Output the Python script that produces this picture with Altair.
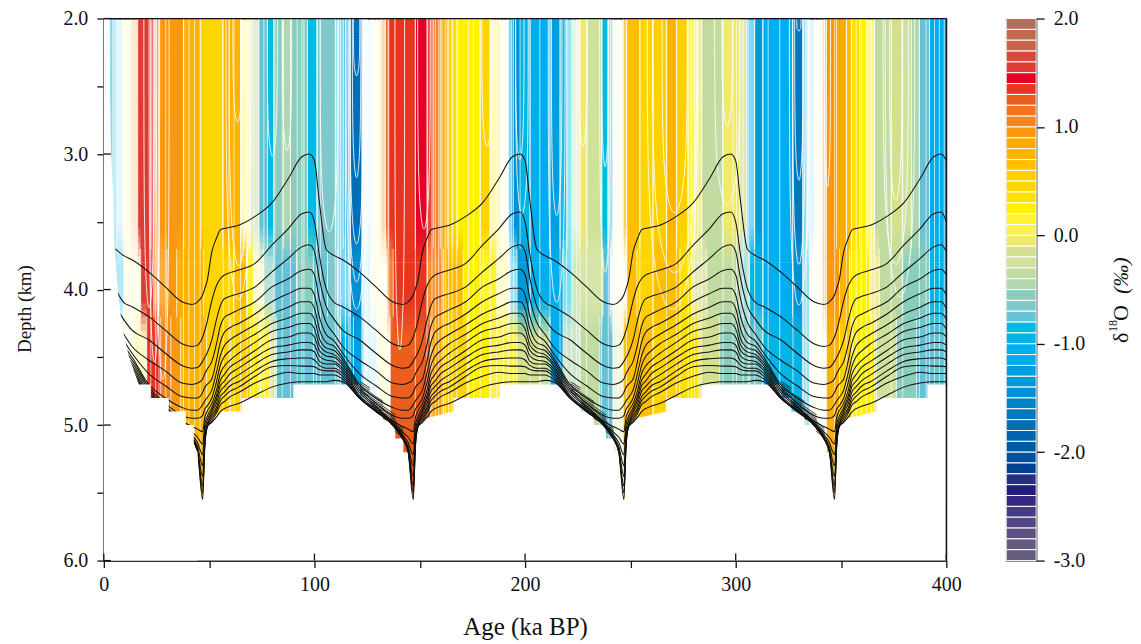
import altair as alt
import pandas as pd

FONT = "Liberation Serif"

BAR_COLORS = ["#B0705A", "#C0694F", "#CC6349", "#D8483A", "#DE3C33", "#E60026", "#E73520", "#EC5E1E", "#F27420", "#F5851A",
              "#FA9811", "#FCA904", "#FFB200", "#FFBE00", "#FFD000", "#FFD500", "#FFE100", "#FFF100", "#FFF42F", "#FBF055",
              "#EFE96C", "#D5E08F", "#CFE29B", "#C1DBA0", "#B0D7AE", "#8BCDBC", "#7FC9CA", "#65C2D4", "#00BCE2", "#00B5E5",
              "#00AEEF", "#00AAEE", "#009FDF", "#0099D8", "#0091D5", "#0082C8", "#0078C0", "#006FB8", "#0065AE", "#005AA0",
              "#0050A0", "#004090", "#262D85", "#231C7E", "#35277F", "#453A85", "#544784", "#5D5085", "#645A82", "#645E7C"]
BAR_TOPS = [2.0, 1.9, 1.8, 1.7, 1.6, 1.5, 1.4, 1.3, 1.2, 1.1, 1.0, 0.9, 0.8, 0.7, 0.6, 0.5, 0.4, 0.3, 0.2, 0.1,
            0.0, -0.1, -0.2, -0.3, -0.4, -0.5, -0.6, -0.7, -0.8, -0.9, -1.0, -1.1, -1.2, -1.3, -1.4, -1.5, -1.6, -1.7, -1.8, -1.9,
            -2.0, -2.1, -2.2, -2.3, -2.4, -2.5, -2.6, -2.7, -2.8, -2.9]

TOP_EDGES = [2.8, 4.3, 6.2, 9, 12.8, 16.1, 22.3, 23.7, 26.1, 37.9, 46, 56.4, 64.9, 69.7, 73.5, 77.7, 80.6, 85.3, 88.6, 96.7,
             101.4, 110, 113.7, 117, 122.7, 127.5, 131.3, 133.6, 135, 147.9, 153.6, 156.4, 159.7, 163, 165.4, 167.8, 178.7, 183.4, 188.2, 191.9,
             193.8, 197.6, 202.4, 211.8, 216.6, 219.9, 222.7, 226, 229.4, 236.5, 239.3, 241.7, 246.4, 248.3, 254.5, 260.7, 267.3, 272, 277.3, 280.6,
             283.9, 293.8, 301.9, 305.2, 309, 312.8, 327, 331.8, 334, 337.4, 341.2, 343.1, 347.9, 352.6, 355, 358.8, 362.6, 365.9, 373.9, 379.1,
             383.4, 387.2, 392, 400]
TOP_LEVELS = [-.95, -.95, -.95, .25, .95, 1.55, 1.45, 1.05, .95, .75, .45, .75, .15, -.35, -.75, -.85, -.55, -.45, -.55, -.85,
              -.65, -.85, -1.25, -1.75, -.95, .25, .95, 1.25, 1.35, 1.45, 1.35, 1.15, .85, .55, .35, .25, .45, .15, .05, -.95,
              -1.45, -.95, -1.05, -1.25, -.95, -.85, -.25, -.05, -.25, -.85, -.85, .15, .65, .65, .45, .55, .75, .55, .15, -.05,
              -.35, -.05, -.15, -.95, -1.35, -1.05, -1.65, -.95, -.95, .15, .95, .95, .85, .65, .35, .25, .15, -.35, -.15, -.25,
              -.45, -.75, -1.05]
TOP_ALPHA = [.5, .25, .1, .08, .2, 1, .55, .75, 1, 1, 1, 1, .3, .5, 1, 1, 1, 1, 1, 1,
             1, .5, .7, 1, .06, .07, .4, .9, 1, 1, .9, .9, .9, 1, 1, 1, 1, .35, .05, .5,
             1, 1, 1, 1, .9, .4, .4, 1, 1, 1, .4, .05, .7, 1, 1, 1, 1, 1, .9, .8,
             1, 1, .7, .5, 1, 1, 1, .5, .1, .05, .4, 1, 1, 1, 1, 1, .6, 1, 1, 1,
             1, 1, 1]

MID_EDGES = [4.7, 9.5, 17.5, 23.7, 26, 30, 34.6, 47.4, 61.6, 67.8, 71, 75.8, 80.6, 91.5, 99.5, 106.2, 110.9, 117, 122.7, 126.5,
             134.6, 137.4, 153.6, 161.1, 170.6, 180.1, 186.7, 192.9, 196.2, 202.4, 218, 222.7, 237, 240.3, 248.3, 253.1, 260.7, 273.5, 279.6, 286.3,
             301.9, 306.6, 312.8, 327, 331.8, 335, 341.2, 343.1, 349.3, 354, 363.5, 368.2, 379.1, 392, 400]
MID_LEVELS = [-.95, .25, 1.55, 1.15, .95, .95, .75, .45, .65, .25, .05, -.55, -.75, -.55, -.75, -.65, -.95, -1.45, -.95,
              .25, 1.15, 1.35, 1.05, .65, .25, .15, .15, -.95, -1.35, -1.05, -.85, -.25, -.75, .15, .65, .45, .65, .35, -.15,
              -.35, -.65, -.95, -1.05, -1.45, -.95, .15, .95, .95, .75, .25, -.05, -.35, -.55, -.95]
MID_ALPHA = [.3, .08, 1, .6, .8, 1, 1, 1, 1, .8, .25, .6, 1, 1, 1, 1, .5, 1, .12,
             .08, .9, 1, .9, 1, 1, 1, .25, .4, 1, 1, .5, .85, 1, .05, 1, 1, 1, 1, .7,
             1, .6, 1, 1, 1, .4, .05, .4, 1, 1, 1, .7, 1, 1, 1]

LOW_EDGES = [8, 14.2, 20.4, 27, 31.8, 36.5, 48.8, 60.2, 69.7, 74.4, 79.1, 82, 99.5, 112.3, 118.5, 123.2, 129.9, 136, 155, 161.1,
             172.5, 183.4, 196.2, 207.1, 211.8, 218, 226, 235.5, 241.7, 246.4, 260.7, 273.5, 283, 292.4, 306.6, 312.8, 331.8, 335, 343.1, 349.3,
             355.5, 366.8, 376.3, 385.8, 400]
LOW_LEVELS = [.15, .25, 1.35, 1.05, .95, .75, .55, .45, .25, .15, -.15, -.75, -.75, -.95, -1.25, -.95, .25, 1.25, .85,
              .45, .25, .05, -.15, -.25, -1.05, -.45, -.35, -.75, -.25, .65, .45, .35, -.15, -.55, -.65, -.95, -.85, .15, .75,
              .55, .25, -.25, -.55, -.75]
LOW_ALPHA = [.07, .2, 1, 1, 1, 1, 1, 1, 1, .9, .7, 1, 1, 1, 1, .1, .12, 1, 1,
             1, 1, 1, 1, 1, 1, .6, 1, 1, .3, 1, 1, 1, 1, 1, 1, 1, .4, .07, 1,
             1, 1, 1, 1, 1]

EXTRA_RULES = [22.3, 24.6, 26.2, 29.4, 37.8, 40.4, 43.1, 45.7, 56.7, 59.4, 61.8, 64.9, 68, 71.2, 73.6, 76, 81.2, 84.7, 88.6, 91.8, 95,
               102.8, 109.9, 111.5, 114.7, 116.3, 122.6, 124.2, 129.7, 133.7,
               94, 101, 110.8, 112.4, 114.7, 117, 122.6, 125, 127.4, 132.1, 135.3, 147.9, 153.4, 155.8, 157.4, 159, 160.5, 162.1, 163.7, 165.3,
               167.6, 173.2, 175.5, 178.7, 183.4, 186.6, 189.8, 192.1, 194.5,
               202.3, 207, 211.8, 216.6, 219.7, 222.1, 224.5, 226, 229.2, 236.3, 239.5, 241.8, 244.2, 246.6, 248.2, 254.5, 260.8, 267.1, 271.8,
               277.4, 279, 280.5, 282.1, 283.7, 294, 298.7,
               300.4, 303.5, 305.9, 309, 313, 315.4, 320.9, 327.2, 332, 333.5, 335.1, 337.5, 339.9, 342.2, 347, 352.5, 354.9, 357.2, 359.6, 362,
               364.3, 365.9, 373.8, 379.3, 387.2, 390.4, 392, 394.4, 396.7, 399]

FLOOR_AGE = [0, 2.4, 2.8, 3.2, 4.5, 5, 7, 9, 12, 14.2, 16.6, 22.3, 22.3, 30.8, 30.8, 38.9, 38.9, 42.7, 42.7, 44.5, 46.9, 47.2, 48.3, 50, 53, 56, 65.4, 65.4, 90, 90,
             121.8, 121.8, 126.5, 126.5, 132.7, 132.7, 138.4, 138.4, 142.2, 142.2, 144.5, 146.9, 147.2, 148.3, 150, 153, 166, 166, 188, 188,
             221.8, 221.8, 226.5, 226.5, 232.7, 232.7, 238.4, 238.4, 242.2, 242.2, 244.5, 246.9, 247.2, 248.3, 250, 253, 267, 267, 284, 284,
             321.8, 321.8, 326.5, 326.5, 332.7, 332.7, 338.4, 338.4, 342.2, 342.2, 344.5, 346.9, 347.2, 348.3, 350, 353, 367, 367, 391, 391, 400]
FLOOR_DEPTH = [2, 2, 2.4, 2.9, 3.4, 3.7, 4.07, 4.3, 4.5, 4.6, 4.7, 4.7, 4.8, 4.8, 4.9, 4.9, 5.0, 5.0, 5.15, 5.2, 5.55, 5.55, 5.05, 4.98, 4.93, 4.9, 4.9, 4.8, 4.8, 4.7,
               4.7, 4.8, 4.8, 4.9, 4.9, 5.0, 5.0, 5.1, 5.1, 5.2, 5.2, 5.55, 5.55, 5.05, 4.98, 4.95, 4.9, 4.8, 4.8, 4.7,
               4.7, 4.8, 4.8, 4.9, 4.9, 5.0, 5.0, 5.1, 5.1, 5.2, 5.2, 5.55, 5.55, 5.05, 4.98, 4.95, 4.9, 4.8, 4.8, 4.7,
               4.7, 4.8, 4.8, 4.9, 4.9, 5.0, 5.0, 5.1, 5.1, 5.2, 5.2, 5.55, 5.55, 5.05, 4.98, 4.95, 4.9, 4.8, 4.8, 4.7, 4.7]

PHASES = [0, 2.3, 5.5, 9.4, 13.4, 21.3, 29.2, 37.1, 41.8, 44.5, 46.9, 48, 49, 51.3, 53.5, 55.3, 57, 60, 64, 71.8, 79.8, 87.6, 94, 97.6]
CYCLES = [0, 100, 200, 300]
L01 = [3.05, 3.35, 3.70, 3.75, 3.78, 3.87, 3.98, 4.09, 4.11, 4.09, 4.04, 3.99, 3.94, 3.72, 3.62, 3.56, 3.55, 3.54, 3.525, 3.46, 3.36, 3.18, 3.02, 3.0]
L02 = [3.50, 3.746, 3.99, 4.095, 4.127, 4.20, 4.30, 4.40, 4.42, 4.41, 4.35, 4.30, 4.24, 4.08, 3.97, 3.92, 3.895, 3.875, 3.856, 3.807, 3.672, 3.55, 3.44, 3.427]
L03 = [3.72, 3.92, 4.12, 4.22, 4.30, 4.37, 4.47, 4.56, 4.58, 4.575, 4.53, 4.50, 4.47, 4.37, 4.22, 4.12, 4.07, 4.05, 4.03, 3.98, 3.87, 3.77, 3.685, 3.67]
L04 = [3.89, 4.07, 4.24, 4.33, 4.42, 4.52, 4.60, 4.69, 4.70, 4.69, 4.66, 4.62, 4.59, 4.53, 4.40, 4.27, 4.21, 4.18, 4.15, 4.09, 3.98, 3.92, 3.86, 3.85]
L05 = [4.04, 4.20, 4.33, 4.38, 4.47, 4.62, 4.71, 4.79, 4.80, 4.80, 4.76, 4.72, 4.70, 4.66, 4.52, 4.39, 4.32, 4.28, 4.25, 4.18, 4.09, 4.03, 3.99, 3.99]
L06 = [4.14, 4.29, 4.39, 4.42, 4.50, 4.70, 4.80, 4.87, 4.89, 4.89, 4.85, 4.82, 4.80, 4.74, 4.61, 4.49, 4.42, 4.37, 4.33, 4.26, 4.18, 4.13, 4.09, 4.09]
L07 = [4.22, 4.36, 4.43, 4.45, 4.52, 4.72, 4.84, 4.93, 4.95, 4.95, 4.93, 4.88, 4.86, 4.80, 4.68, 4.56, 4.50, 4.45, 4.40, 4.33, 4.25, 4.21, 4.175, 4.175]
L08 = [4.29, 4.41, 4.46, 4.48, 4.54, 4.74, 4.86, 4.97, 5.01, 5.03, 5.05, 4.94, 4.90, 4.84, 4.74, 4.62, 4.57, 4.52, 4.47, 4.39, 4.31, 4.28, 4.25, 4.25]
L09 = [4.35, 4.45, 4.49, 4.50, 4.56, 4.76, 4.87, 4.98, 5.05, 5.09, 5.14, 4.99, 4.94, 4.87, 4.78, 4.67, 4.63, 4.57, 4.53, 4.45, 4.37, 4.35, 4.32, 4.32]
L10 = [4.41, 4.49, 4.52, 4.53, 4.58, 4.78, 4.88, 4.985, 5.07, 5.13, 5.22, 5.03, 4.97, 4.89, 4.81, 4.71, 4.68, 4.62, 4.58, 4.50, 4.43, 4.41, 4.39, 4.39]
L11 = [4.46, 4.53, 4.55, 4.55, 4.60, 4.79, 4.89, 4.99, 5.08, 5.16, 5.30, 5.07, 5.0, 4.91, 4.84, 4.75, 4.72, 4.67, 4.63, 4.55, 4.48, 4.46, 4.445, 4.445]
L12 = [4.52, 4.56, 4.58, 4.58, 4.62, 4.80, 4.89, 4.99, 5.09, 5.18, 5.38, 5.1, 5.01, 4.93, 4.87, 4.79, 4.76, 4.71, 4.68, 4.60, 4.53, 4.51, 4.505, 4.505]
L13 = [4.57, 4.59, 4.60, 4.60, 4.64, 4.80, 4.90, 5.0, 5.095, 5.19, 5.45, 5.13, 5.02, 4.95, 4.89, 4.82, 4.79, 4.75, 4.72, 4.64, 4.57, 4.56, 4.565, 4.565]
L14 = [4.62, 4.63, 4.63, 4.63, 4.66, 4.80, 4.90, 5.0, 5.10, 5.2, 5.50, 5.15, 5.02, 4.97, 4.91, 4.85, 4.83, 4.79, 4.76, 4.69, 4.64, 4.61, 4.62, 4.62]
L15 = [4.68, 4.68, 4.68, 4.67, 4.68, 4.80, 4.90, 5.0, 5.10, 5.2, 5.55, 5.12, 5.01, 4.98, 4.94, 4.90, 4.88, 4.86, 4.84, 4.78, 4.72, 4.69, 4.68, 4.68]
LINES = [L01, L02, L03, L04, L05, L06, L07, L08, L09, L10, L11, L12, L13, L14, L15]

U_CENTER = [63.5, 80, 87, 120, 120, 120, 120, 120, 107, 152, 182, 197.5, 198.5, 227.5, 238, 238, 215, 215, 271, 271, 270, 296, 296,
            330, 330, 330, 330, 343.5, 376, 376, 378, 21.5, 24, 28, 64, 64, 140.5]
U_WIDTH = [2.2, 2.4, 2.2, 1.5, 2, 3.2, 4, 5, 4.3, 3, 2.5, 2, 3, 2, 1.6, 2.6, 2.5, 4, 6, 10.5, 12, 2.5, 6,
           1, 2, 3, 4.5, 1.5, 3, 6, 7, 2.5, 2.5, 3, 4.5, 6, 2.3]
U_TIP = [2.77, 3.02, 2.98, 2.43, 3.18, 3.67, 3.95, 4.15, 3.58, 3.56, 2.95, 3.05, 3.45, 2.95, 3.1, 3.88, 3.46, 4.1, 3.44, 3.88, 4.15, 2.8, 3.38,
         2.1, 3.2, 3.82, 4.12, 3.25, 3.35, 3.82, 4.06, 4.14, 4.54, 4.67, 3.83, 4.08, 4.45]

# Hatched blocks along the stepped sea floor, one cycle's worth.
STACK_AGE0 = [121.6, 121.6, 121.6, 121.6, 121.6, 121.6, 126.3, 126.3, 126.3, 126.3, 126.3, 126.3, 126.3,
              132.5, 132.5, 132.5, 132.5, 132.5, 132.5, 132.5, 138.2, 138.2, 138.2, 138.2, 138.2, 138.2]
STACK_AGE1 = [126.3, 126.3, 126.3, 126.3, 126.3, 126.3, 132.6, 132.6, 132.6, 132.6, 132.6, 132.6, 132.6,
              138.4, 138.4, 138.4, 138.4, 138.4, 138.4, 138.4, 142.2, 142.2, 142.2, 142.2, 142.2, 142.2]
STACK_DEPTH0 = [4.68, 4.695, 4.71, 4.725, 4.74, 4.755, 4.76, 4.775, 4.79, 4.805, 4.82, 4.835, 4.85,
                4.86, 4.875, 4.89, 4.905, 4.92, 4.935, 4.95, 4.97, 4.985, 5.0, 5.015, 5.03, 5.045]
STACK_DEPTH1 = [4.725, 4.74, 4.755, 4.77, 4.785, 4.795, 4.825, 4.84, 4.855, 4.865, 4.875, 4.885, 4.895,
                4.925, 4.94, 4.955, 4.965, 4.975, 4.985, 4.995, 5.03, 5.045, 5.06, 5.07, 5.08, 5.095]

ZONE1_STEPS = [3.55, 3.6, 3.65, 3.7, 3.75, 3.8]
ZONE2_STEPS = [4.1, 4.15, 4.2, 4.25, 4.3, 4.35]
STEP_SHARE = [.18, .36, .54, .72, .88]


def bands(edges, levels, alpha, d0, d1):
    return pd.DataFrame({"a0": edges[:-1], "a1": edges[1:], "level": levels, "alpha": alpha, "d0": d0, "d1": d1})


band_df = pd.concat([
    bands(TOP_EDGES, TOP_LEVELS, TOP_ALPHA, 2.0, 3.8),
    bands(MID_EDGES, MID_LEVELS, MID_ALPHA, 3.8, 4.35),
    bands(LOW_EDGES, LOW_LEVELS, LOW_ALPHA, 4.35, 5.6),
])
wash_rows, blend_rows = [], []
for steps, src in ((ZONE1_STEPS, bands(MID_EDGES, MID_LEVELS, MID_ALPHA, 0, 0)), (ZONE2_STEPS, bands(LOW_EDGES, LOW_LEVELS, LOW_ALPHA, 0, 0))):
    for i, s in enumerate(STEP_SHARE):
        part = src.copy()
        part["d0"], part["d1"] = steps[i], steps[i + 1]
        wash = part.copy()
        # White first, then the colour, so that the lower band replaces the upper by the share s.
        wash["alpha"] = 1 - (1 - s) / (1 - s * part["alpha"])
        part["alpha"] = part["alpha"] * s
        wash_rows.append(wash)
        blend_rows.append(part)
wash_df = pd.concat(wash_rows)
blend_df = pd.concat(blend_rows)

edge_df = pd.concat([
    pd.DataFrame({"a": TOP_EDGES, "d0": 2.0, "d1": 3.7}),
    pd.DataFrame({"a": MID_EDGES, "d0": 3.7, "d1": 4.2}),
    pd.DataFrame({"a": LOW_EDGES, "d0": 4.2, "d1": 5.6}),
    pd.DataFrame({"a": EXTRA_RULES, "d0": 2.0, "d1": 5.6}),
])

rows = []
for k, line in enumerate(LINES):
    for c in CYCLES:
        for p, d in zip(PHASES, line):
            if c == 0 and p < 5:
                continue
            rows.append({"line": k, "age": c + p, "depth": d})
    rows.append({"line": k, "age": 400, "depth": line[0]})
line_df = pd.DataFrame(rows)

u_rows = []
for i, (c, w, t) in enumerate(zip(U_CENTER, U_WIDTH, U_TIP)):
    path = [(c - w, 2.0), (c - w, 2.0 + (t - 2.0) * .5), (c - w * .8, t - .45 * (t - 2.0) * .35), (c - w * .3, t - .02), (c, t),
            (c + w * .3, t - .02), (c + w * .8, t - .45 * (t - 2.0) * .35), (c + w, 2.0 + (t - 2.0) * .5), (c + w, 2.0)]
    for j, (a, d) in enumerate(path):
        u_rows.append({"u": i, "j": j, "age": a, "depth": d})
u_df = pd.DataFrame(u_rows)

floor_df = pd.DataFrame({"age": FLOOR_AGE, "depth": FLOOR_DEPTH, "base": 6.0})
stack_rows = []
for c in CYCLES[:3]:
    for a0, a1, d0, d1 in zip(STACK_AGE0, STACK_AGE1, STACK_DEPTH0, STACK_DEPTH1):
        stack_rows.append({"a0": a0 + c, "a1": a1 + c, "d0": d0, "d1": d1})
stack_df = pd.DataFrame(stack_rows)

x_scale = alt.Scale(domain=[0, 400], nice=False, zero=False)
y_scale = alt.Scale(domain=[2, 6], reverse=True, nice=False, zero=False)
thresholds = sorted(BAR_TOPS)[:-1]
color_scale = alt.Scale(type="threshold", domain=thresholds, range=BAR_COLORS[::-1])

x_axis = alt.Axis(values=[0, 50, 100, 150, 200, 250, 300, 350, 400], labelExpr="datum.value % 100 === 0 ? datum.value : ''",
                  title="Age (ka BP)", tickSize=7, tickWidth=1.3, tickColor="#111", domainColor="#111", domainWidth=1.4,
                  labelFont=FONT, labelFontSize=20, labelColor="#111", labelPadding=7, labelAngle=0, labelOverlap=False, labelFlush=False,
                  titleFont=FONT, titleFontSize=25, titleFontWeight="normal", titleColor="#111", titlePadding=20, grid=False)
y_axis = alt.Axis(values=[2, 2.5, 3, 3.5, 4, 4.5, 5, 5.5, 6], labelExpr="datum.value % 1 === 0 ? format(datum.value, '.1f') : ''",
                  title=None, tickSize=7, tickWidth=1.3, tickColor="#111", domainColor="#111", domainWidth=2,
                  labelFont=FONT, labelFontSize=20, labelColor="#111", labelPadding=9, labelOverlap=False, labelFlush=False, grid=False)

rect = alt.Chart(band_df).mark_rect().encode(
    x=alt.X("a0:Q", scale=x_scale, axis=x_axis), x2="a1:Q",
    y=alt.Y("d0:Q", scale=y_scale, axis=y_axis), y2="d1:Q",
    color=alt.Color("level:Q", scale=color_scale, legend=None),
    opacity=alt.Opacity("alpha:Q", scale=None),
)
wash = alt.Chart(wash_df).mark_rect(color="white").encode(
    x=alt.X("a0:Q", scale=x_scale), x2="a1:Q", y=alt.Y("d0:Q", scale=y_scale), y2="d1:Q",
    opacity=alt.Opacity("alpha:Q", scale=None))
blend = alt.Chart(blend_df).mark_rect().encode(
    x=alt.X("a0:Q", scale=x_scale), x2="a1:Q", y=alt.Y("d0:Q", scale=y_scale), y2="d1:Q",
    color=alt.Color("level:Q", scale=color_scale, legend=None),
    opacity=alt.Opacity("alpha:Q", scale=None),
)
edges = alt.Chart(edge_df).mark_rule(color="white", strokeWidth=0.8, opacity=.85).encode(
    x=alt.X("a:Q", scale=x_scale), y=alt.Y("d0:Q", scale=y_scale), y2="d1:Q")
contours = alt.Chart(u_df).mark_line(color="white", strokeWidth=1, interpolate="basis", opacity=.85).encode(
    x=alt.X("age:Q", scale=x_scale), y=alt.Y("depth:Q", scale=y_scale), detail="u:N", order="j:Q")
mask = alt.Chart(floor_df).mark_area(color="white", opacity=1).encode(
    x=alt.X("age:Q", scale=x_scale), y=alt.Y("depth:Q", scale=y_scale), y2="base:Q")
stack = alt.Chart(stack_df).mark_rule(color="#111", strokeWidth=0.8).encode(
    x=alt.X("a0:Q", scale=x_scale), x2="a1:Q", y=alt.Y("d0:Q", scale=y_scale), y2="d1:Q")
lines = alt.Chart(line_df).mark_line(color="#111", strokeWidth=1.05, interpolate="monotone", clip=True).encode(
    x=alt.X("age:Q", scale=x_scale), y=alt.Y("depth:Q", scale=y_scale), detail="line:N")
mask_left = alt.Chart(floor_df[floor_df.age <= 44.5]).mark_area(color="white", opacity=1).encode(
    x=alt.X("age:Q", scale=x_scale), y=alt.Y("depth:Q", scale=y_scale), y2="base:Q")

inner_y = alt.Chart(pd.DataFrame({"d": [2, 3, 4, 5, 6]})).mark_rule(color="#111", strokeWidth=1.3).encode(
    y=alt.Y("d:Q", scale=y_scale), x=alt.value(0), x2=alt.value(7))
inner_x = alt.Chart(pd.DataFrame({"a": [0, 100, 200, 300, 400]})).mark_rule(color="#111", strokeWidth=1.3).encode(
    x=alt.X("a:Q", scale=x_scale), y=alt.value(536), y2=alt.value(543))
frame_top = alt.Chart(pd.DataFrame({"d": [2]})).mark_rule(color="#111", strokeWidth=1.3).encode(
    y=alt.Y("d:Q", scale=y_scale), x=alt.value(0), x2=alt.value(844))
frame_right = alt.Chart(pd.DataFrame({"a": [400]})).mark_rule(color="#111", strokeWidth=1.3).encode(
    x=alt.X("a:Q", scale=x_scale), y=alt.value(0), y2=alt.value(543))
depth_title = alt.Chart(pd.DataFrame({"t": ["Depth (km)"]})).mark_text(
    font=FONT, fontSize=19, angle=270, align="center", baseline="alphabetic", color="#111").encode(
    text="t:N", x=alt.value(-73), y=alt.value(291))

main = alt.layer(rect, wash, blend, edges, contours, mask, stack, lines, mask_left, inner_y, inner_x, frame_top, frame_right, depth_title).properties(width=844, height=543)

bar_df = pd.DataFrame({"top": BAR_TOPS, "bottom": [v - 0.1 for v in BAR_TOPS], "mid": [v - 0.05 for v in BAR_TOPS]})
bar_scale = alt.Scale(domain=[-3, 2], nice=False, zero=False)
bar = alt.Chart(bar_df).mark_rect(stroke="white", strokeWidth=1).encode(
    x=alt.value(0), x2=alt.value(30),
    y=alt.Y("top:Q", scale=bar_scale, axis=alt.Axis(
        orient="right", values=[2, 1, 0, -1, -2, -3],
        labelExpr="datum.value < 0 ? '-' + format(-datum.value, '.1f') : format(datum.value, '.1f')",
        title=None, tickSize=8, tickWidth=1.3, tickColor="#111",
        domainColor="#111", domainWidth=1.2, labelFont=FONT, labelFontSize=20, labelColor="#111", labelPadding=9, grid=False,
        labelOverlap=False, labelFlush=False)),
    y2="bottom:Q",
    color=alt.Color("mid:Q", scale=color_scale, legend=None),
)
TITLE_TEXT = ["δ", "18", "O", "(‰)"]
TITLE_SIZE = [22, 12, 22, 22]
TITLE_STYLE = ["normal", "normal", "normal", "italic"]
TITLE_X = [122, 111, 122, 122]
TITLE_Y = [325, 314, 303, 276]
title_df = pd.DataFrame({"t": TITLE_TEXT, "s": TITLE_SIZE, "st": TITLE_STYLE, "px": TITLE_X, "py": TITLE_Y})
title_layers = []
for _, r in title_df.iterrows():
    title_layers.append(alt.Chart(pd.DataFrame({"t": [r.t]})).mark_text(
        font=FONT, fontSize=int(r.s), fontStyle=r.st, angle=270, align="left", baseline="alphabetic", color="#111").encode(
        text="t:N", x=alt.value(int(r.px)), y=alt.value(int(r.py))))
frame = alt.layer(bar, *title_layers).properties(width=30, height=543)

chart = alt.hconcat(main, frame, spacing=60, bounds="flush").properties(
    padding={"left": 7, "top": -1, "right": 0, "bottom": 0}, background="white"
).configure_view(stroke="#111", strokeWidth=1.2)
chart.save("out.html", embed_options={"renderer": "svg", "actions": False})
